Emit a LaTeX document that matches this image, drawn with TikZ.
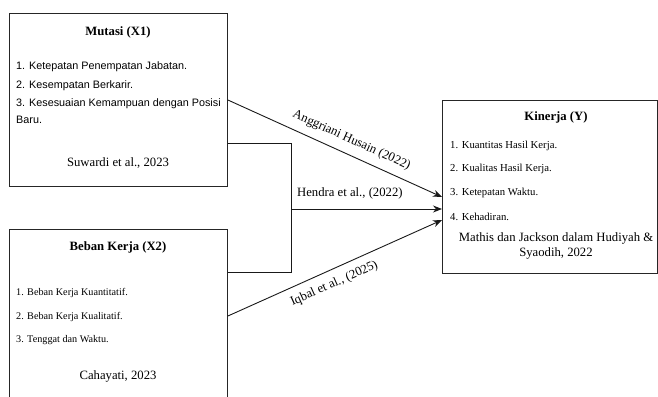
\documentclass[tikz,border=0pt]{standalone}
\usepackage{fontspec}
\setmainfont{Liberation Serif}
\setsansfont{Liberation Sans}
\usetikzlibrary{arrows.meta}

\begin{document}
\begin{tikzpicture}[x=1pt, y=-1pt]
        \tikzstyle{every node}=[text=black, inner sep=3pt]
        \tikzstyle{box}=[draw=black!85, line width=0.9pt, anchor=north west, minimum width=218pt]
        \tikzstyle{title}=[font=\fontsize{12.7}{15}\selectfont\bfseries]
        \tikzstyle{cite}=[font=\fontsize{12.7}{15}\selectfont]
        \tikzstyle{item}=[anchor=west, font=\fontsize{10.2}{12}\selectfont]
        \tikzstyle{sitem}=[anchor=west, font=\fontsize{10.8}{13}\selectfont\sffamily]
        \tikzstyle{edge}=[black!90, line width=0.9pt]
        \tikzstyle{arr}=[edge, -{Stealth[length=9pt, width=7pt]}]

        \useasboundingbox (0,0) rectangle (658,396);

        \node[box, minimum height=173pt] (x1) at (9,13) {};
        \node[box, minimum height=190pt] (x2) at (9,229) {};
        \node[box, minimum width=215pt, minimum height=173pt] (y) at (442,100) {};

        \node[title] (x1t) at (118,32) {Mutasi (X1)};
        \node[sitem] (x1a) at (13,67)  {1. Ketepatan Penempatan Jabatan.};
        \node[sitem] (x1b) at (13,86)  {2. Kesempatan Berkarir.};
        \node[sitem] (x1c) at (13,104) {3. Kesesuaian Kemampuan dengan Posisi};
        \node[sitem] (x1d) at (13,120) {Baru.};
        \node[cite] (x1s) at (118,163) {Suwardi et al., 2023};

        \node[title] (x2t) at (118,247) {Beban Kerja (X2)};
        \node[item] (x2a) at (13,293) {1. Beban Kerja Kuantitatif.};
        \node[item] (x2b) at (13,317) {2. Beban Kerja Kualitatif.};
        \node[item] (x2c) at (13,340) {3. Tenggat dan Waktu.};
        \node[cite] (x2s) at (118,376) {Cahayati, 2023};

        \node[title] (yt) at (556,117) {Kinerja (Y)};
        \node[item, font=\fontsize{10.7}{12}\selectfont] (ya) at (447,146) {1. Kuantitas Hasil Kerja.};
        \node[item, font=\fontsize{10.7}{12}\selectfont] (yb) at (447,169) {2. Kualitas Hasil Kerja.};
        \node[item, font=\fontsize{10.7}{12}\selectfont] (yc) at (447,193) {3. Ketepatan Waktu.};
        \node[item, font=\fontsize{10.7}{12}\selectfont] (yd) at (447,217) {4. Kehadiran.};
        \node[cite, align=center] (ys) at (556,246) {Mathis dan Jackson dalam Hudiyah \&\\Syaodih, 2022};

        \coordinate (bt) at (291,143);
        \coordinate (bb) at (291,272);
        \coordinate (bj) at (291,209);

        \draw[edge] (x1.east |- bt) -- (bt) -- (bb) -- (x2.east |- bb);

        \draw[arr] ([yshift=-87pt]x1.north east) -- node[cite, sloped, above=5pt, pos=0.55] {Anggriani Husain (2022)} ([yshift=-97pt]y.north west);
        \draw[arr] (bj) -- node[cite, above=6pt, pos=0.39] {Hendra et al., (2022)} (y.west |- bj);
        \draw[arr] ([yshift=-87pt]x2.north east) -- node[cite, sloped, below=5pt, pos=0.47] {Iqbal et al., (2025)} ([yshift=-120pt]y.north west);
\end{tikzpicture}
\end{document}
